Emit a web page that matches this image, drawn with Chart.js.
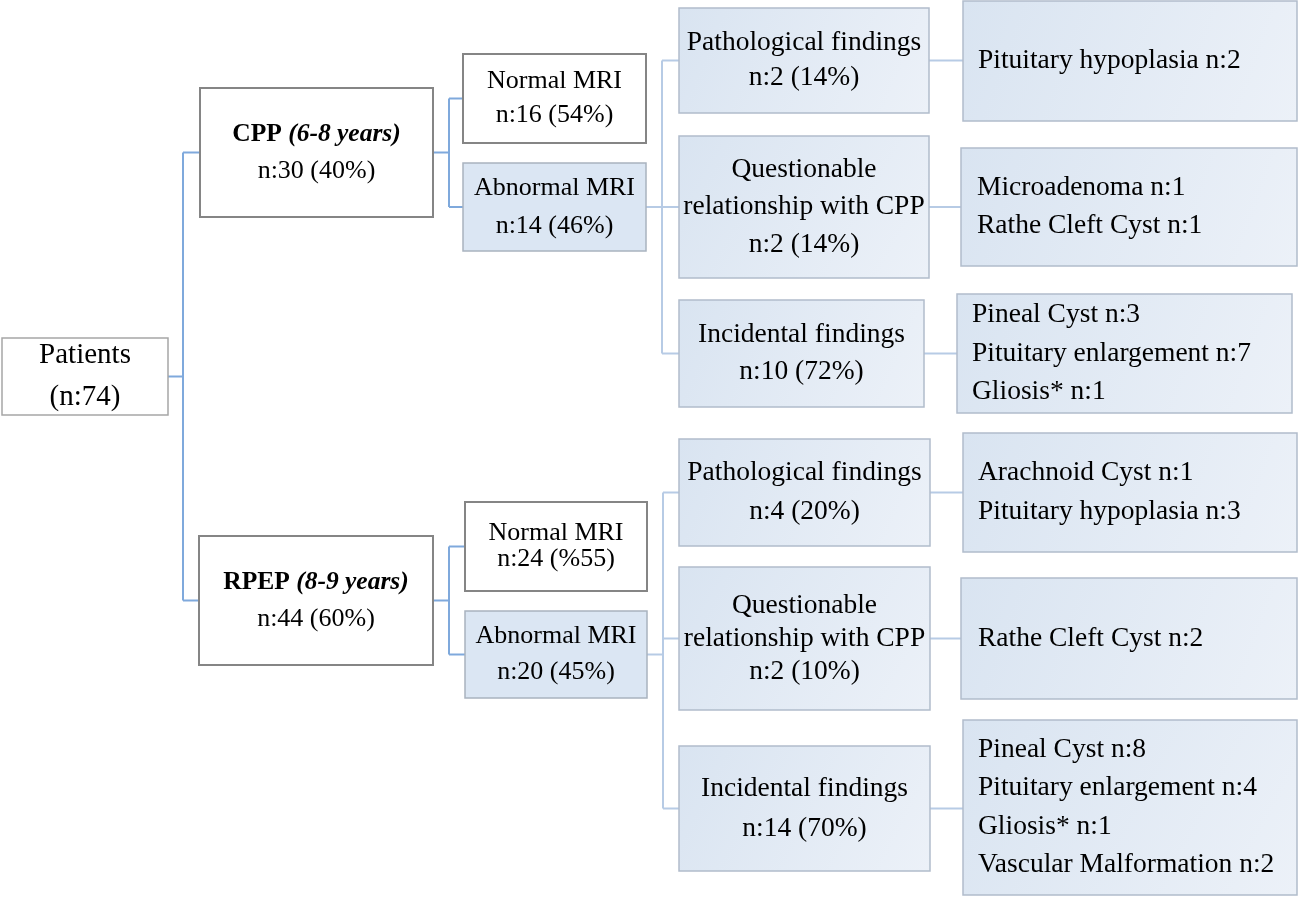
<!DOCTYPE html>
<html>
<head>
<meta charset="utf-8">
<script src="https://cdn.jsdelivr.net/npm/chart.js@4/dist/chart.umd.min.js"></script>
<style>
  html, body { margin: 0; padding: 0; background: #fff; }
  #tree { display: block; }
</style>
</head>
<body>
<canvas id="tree" width="1299" height="897"></canvas>
<script>
// Datos del diagrama
const rootLines = ['Patients', '(n:74)'];
const groupNames = ['CPP', 'RPEP'];
const groupAges = ['(6-8 years)', '(8-9 years)'];
const groupCounts = ['n:30 (40%)', 'n:44 (60%)'];
const mriNames = ['Normal MRI', 'Abnormal MRI'];
const mriCounts = [['n:16 (54%)', 'n:14 (46%)'], ['n:24 (%55)', 'n:20 (45%)']];
const findingNames = [['Pathological findings'], ['Questionable', 'relationship with CPP'], ['Incidental findings']];
const findingCounts = [['n:2 (14%)', 'n:2 (14%)', 'n:10 (72%)'], ['n:4 (20%)', 'n:2 (10%)', 'n:14 (70%)']];
const findingDetails = [
    [['Pituitary hypoplasia n:2'], ['Microadenoma n:1', 'Rathe Cleft Cyst n:1'], ['Pineal Cyst n:3', 'Pituitary enlargement n:7', 'Gliosis* n:1']],
    [['Arachnoid Cyst n:1', 'Pituitary hypoplasia n:3'], ['Rathe Cleft Cyst n:2'], ['Pineal Cyst n:8', 'Pituitary enlargement n:4', 'Gliosis* n:1', 'Vascular Malformation n:2']]
];

// Geometria (unidades de la escala: left, top, right, bottom)
const rootBox = [2, 338, 168, 415];
const groupBoxes = [[200, 88, 433, 217], [199, 536, 433, 665]];
const mriBoxes = [
    [[463, 54, 646, 143], [463, 163, 646, 251]],
    [[465, 502, 647, 591], [465, 611, 647, 698]]
];
const mriLineHeights = [[34, 38], [26, 36]];
const findingBoxes = [
    [[679, 8, 929, 113], [679, 136, 929, 278], [679, 300, 924, 407]],
    [[679, 439, 930, 546], [679, 567, 930, 710], [679, 746, 930, 871]]
];
const findingLineHeights = [[35, 37.5, 37], [39, 33, 40]];
const detailBoxes = [
    [[963, 1, 1297, 121], [961, 148, 1297, 266], [957, 294, 1292, 413]],
    [[963, 433, 1297, 552], [961, 578, 1297, 699], [963, 720, 1297, 895]]
];
const detailTextX = [[978, 977, 972], [978, 978, 978]];

const SERIF = '"Liberation Serif", "Times New Roman", serif';
const LINE_DARK = '#7fa9dc';
const LINE_PALE = '#b7cbe5';

function treePlugin() {
    return {
        id: 'tree',
        afterDraw(chart) {
            const ctx = chart.ctx;
            const px = v => chart.scales.x.getPixelForValue(v);
            const py = v => chart.scales.y.getPixelForValue(v);
            const cy = b => (b[1] + b[3]) / 2;

            function line(pts, color) {
                ctx.save();
                ctx.strokeStyle = color;
                ctx.lineWidth = 2;
                ctx.beginPath();
                pts.forEach((p, i) => {
                    if (i === 0) ctx.moveTo(px(p[0]), py(p[1]));
                    else ctx.lineTo(px(p[0]), py(p[1]));
                });
                ctx.stroke();
                ctx.restore();
            }

            function box(b, kind) {
                const x0 = px(b[0]), y0 = py(b[1]), x1 = px(b[2]), y1 = py(b[3]);
                ctx.save();
                if (kind === 'blue') {
                    const g = ctx.createLinearGradient(x0, y0, x1, y1);
                    g.addColorStop(0, '#d9e4f1');
                    g.addColorStop(1, '#ecf1f8');
                    ctx.fillStyle = g;
                    ctx.strokeStyle = '#b1bccb';
                    ctx.lineWidth = 1.5;
                } else if (kind === 'flat') {
                    ctx.fillStyle = '#dbe6f3';
                    ctx.strokeStyle = '#a9b3bf';
                    ctx.lineWidth = 1.5;
                } else if (kind === 'thin') {
                    ctx.fillStyle = '#ffffff';
                    ctx.strokeStyle = '#a6a6a6';
                    ctx.lineWidth = 1.5;
                } else {
                    ctx.fillStyle = '#ffffff';
                    ctx.strokeStyle = '#858585';
                    ctx.lineWidth = 2;
                }
                ctx.fillRect(x0, y0, x1 - x0, y1 - y0);
                ctx.strokeRect(x0, y0, x1 - x0, y1 - y0);
                ctx.restore();
            }

            // lines: array de arrays de runs [texto, fuente]
            function text(lines, b, lh, leftX) {
                const mid = py(cy(b));
                const startY = mid - (lines.length - 1) * lh / 2;
                ctx.save();
                ctx.fillStyle = '#000';
                ctx.textBaseline = 'middle';
                ctx.textAlign = 'left';
                lines.forEach((runs, i) => {
                    let w = 0;
                    runs.forEach(r => { ctx.font = r[1]; w += ctx.measureText(r[0]).width; });
                    let x = leftX !== undefined ? px(leftX) : px((b[0] + b[2]) / 2) - w / 2;
                    runs.forEach(r => {
                        ctx.font = r[1];
                        ctx.fillText(r[0], x, startY + i * lh);
                        x += ctx.measureText(r[0]).width;
                    });
                });
                ctx.restore();
            }

            const plain = size => `${size}px ${SERIF}`;
            const simple = (arr, size) => arr.map(s => [[s, plain(size)]]);

            // Conectores raiz -> grupos
            const busX0 = 183;
            line([[rootBox[2], cy(rootBox)], [busX0, cy(rootBox)]], LINE_DARK);
            line([[busX0, cy(groupBoxes[0])], [busX0, cy(groupBoxes[1])]], LINE_DARK);
            groupBoxes.forEach(g => line([[busX0, cy(g)], [g[0], cy(g)]], LINE_DARK));

            groupBoxes.forEach((g, gi) => {
                // grupo -> MRI
                const m = mriBoxes[gi];
                const bx = 449;
                line([[g[2], cy(g)], [bx, cy(g)]], LINE_DARK);
                line([[bx, cy(m[0])], [bx, cy(m[1])]], LINE_DARK);
                m.forEach(b => line([[bx, cy(b)], [b[0], cy(b)]], LINE_DARK));

                // Abnormal MRI -> hallazgos
                const f = findingBoxes[gi];
                const fx = 662 + gi;
                line([[m[1][2], cy(m[1])], [fx, cy(m[1])]], LINE_PALE);
                line([[fx, cy(f[0])], [fx, cy(f[2])]], LINE_PALE);
                f.forEach(b => line([[fx, cy(b)], [b[0], cy(b)]], LINE_PALE));

                // hallazgos -> detalles
                f.forEach((b, i) => {
                    const d = detailBoxes[gi][i];
                    line([[b[2], cy(b)], [d[0], cy(b)]], LINE_PALE);
                });
            });

            // Cajas y textos
            box(rootBox, 'thin');
            text(simple(rootLines, 29), rootBox, 42);

            groupBoxes.forEach((g, gi) => {
                box(g, 'white');
                text([
                    [[groupNames[gi] + ' ', `bold 25.5px ${SERIF}`], [groupAges[gi], `italic bold 25.5px ${SERIF}`]],
                    [[groupCounts[gi], plain(26)]]
                ], g, 37);

                mriBoxes[gi].forEach((b, i) => {
                    box(b, i === 0 ? 'white' : 'flat');
                    text(simple([mriNames[i], mriCounts[gi][i]], 26), b, mriLineHeights[gi][i]);
                });

                findingBoxes[gi].forEach((b, i) => {
                    box(b, 'blue');
                    text(simple(findingNames[i].concat([findingCounts[gi][i]]), 27.5), b, findingLineHeights[gi][i]);
                });

                detailBoxes[gi].forEach((b, i) => {
                    box(b, 'blue');
                    text(simple(findingDetails[gi][i], 27.5), b, 38.5, detailTextX[gi][i]);
                });
            });
        }
    };
}

new Chart(document.getElementById('tree'), {
    type: 'scatter',
    data: { datasets: [] },
    options: {
        responsive: false,
        animation: false,
        layout: { padding: 0 },
        scales: {
            x: { type: 'linear', min: 0, max: 1299, display: false },
            y: { type: 'linear', min: 0, max: 897, reverse: true, display: false }
        },
        plugins: {
            legend: { display: false },
            tooltip: { enabled: false }
        }
    },
    plugins: [treePlugin()]
});
</script>
</body>
</html>
